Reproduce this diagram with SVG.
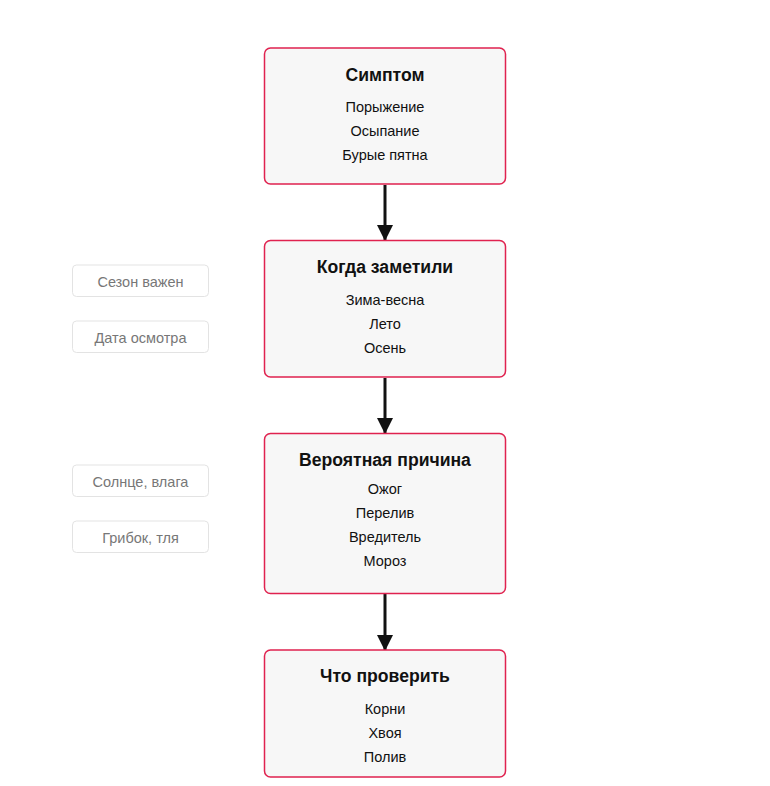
<svg xmlns="http://www.w3.org/2000/svg" width="770" height="786" viewBox="0 0 770 786">
<defs>
<style>
.box{fill:#f7f7f7;stroke:#e0224f;stroke-width:1.5}
.side{fill:#ffffff;stroke:#e3e3e3;stroke-width:1}
.t{font-family:"Liberation Sans",Arial,sans-serif;font-size:17.6px;font-weight:bold;fill:#111;text-anchor:middle}
.i{font-family:"Liberation Sans",Arial,sans-serif;font-size:14.5px;fill:#111;text-anchor:middle}
.s{font-family:"Liberation Sans",Arial,sans-serif;font-size:14.5px;fill:#777;text-anchor:middle}
.c{stroke:#111;stroke-width:3;fill:none}
</style>
<marker id="ah" markerWidth="16" markerHeight="16" refX="15" refY="8" orient="auto" markerUnits="userSpaceOnUse">
<path d="M0,0 L16,8 L0,16 Z" fill="#111"/>
</marker>
</defs>
<rect width="770" height="786" fill="#ffffff"/>
<g id="connectors">
<line class="c" x1="385" y1="185" x2="385" y2="240" marker-end="url(#ah)"/>
<line class="c" x1="385" y1="378" x2="385" y2="433" marker-end="url(#ah)"/>
<line class="c" x1="385" y1="594" x2="385" y2="650" marker-end="url(#ah)"/>
</g>
<g id="symptom">
<rect class="box" x="264.5" y="48" width="241" height="136" rx="6"/>
<text class="t" x="385" y="80.5">Симптом</text>
<text class="i" x="385" y="112">Порыжение</text>
<text class="i" x="385" y="136">Осыпание</text>
<text class="i" x="385" y="160">Бурые пятна</text>
</g>
<g id="when">
<rect class="box" x="264.5" y="240.5" width="241" height="136.5" rx="6"/>
<text class="t" x="385" y="273">Когда заметили</text>
<text class="i" x="385" y="305">Зима-весна</text>
<text class="i" x="385" y="329">Лето</text>
<text class="i" x="385" y="353">Осень</text>
</g>
<g id="cause">
<rect class="box" x="264.5" y="433.5" width="241" height="160" rx="6"/>
<text class="t" x="385" y="465.5">Вероятная причина</text>
<text class="i" x="385" y="494">Ожог</text>
<text class="i" x="385" y="518">Перелив</text>
<text class="i" x="385" y="542">Вредитель</text>
<text class="i" x="385" y="566">Мороз</text>
</g>
<g id="check">
<rect class="box" x="264.5" y="650" width="241" height="127" rx="6"/>
<text class="t" x="385" y="682">Что проверить</text>
<text class="i" x="385" y="714">Корни</text>
<text class="i" x="385" y="738">Хвоя</text>
<text class="i" x="385" y="762">Полив</text>
</g>
<g id="note-season">
<rect class="side" x="72.5" y="265" width="136" height="31.5" rx="4"/>
<text class="s" x="140.5" y="286.5">Сезон важен</text>
</g>
<g id="note-date">
<rect class="side" x="72.5" y="321" width="136" height="31.5" rx="4"/>
<text class="s" x="140.5" y="342.5">Дата осмотра</text>
</g>
<g id="note-sun">
<rect class="side" x="72.5" y="465" width="136" height="31.5" rx="4"/>
<text class="s" x="140.5" y="486.5">Солнце, влага</text>
</g>
<g id="note-fungus">
<rect class="side" x="72.5" y="521" width="136" height="31.5" rx="4"/>
<text class="s" x="140.5" y="542.5">Грибок, тля</text>
</g>
</svg>
